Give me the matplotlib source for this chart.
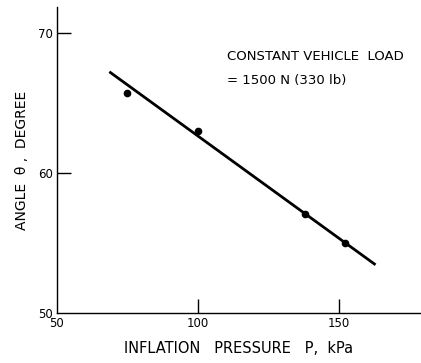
"""
Angle vs inflation pressure at constant vehicle load
"""
import matplotlib
matplotlib.use('Agg')  # Use non-interactive backend
import matplotlib.pyplot as plt

# Measured points
pressure = [75, 100, 138, 152]
angle = [65.75, 63.0, 57.1, 55.0]

# Fitted line ends
fit_pressure = [69, 162.5]
fit_angle = [67.2, 53.5]

x_ticks = [50, 100, 150]
y_ticks = [50, 60, 70]

plt.rcParams['font.family'] = 'DejaVu Sans'

fig = plt.figure(figsize=(4.21, 3.63), dpi=100)
ax = fig.add_axes([0.135, 0.138, 0.865, 0.843])

ax.plot(fit_pressure, fit_angle, color='black', linewidth=2.0)
ax.plot(pressure, angle, 'o', color='black', markersize=4.5)

ax.set_xlim(50, 179)
ax.set_ylim(50, 71.9)

ax.set_xticks(x_ticks)
ax.set_yticks(y_ticks)
ax.tick_params(direction='in', length=10, width=1, labelsize=8.5, pad=3)
# No tick marks at the origin
ax.xaxis.get_major_ticks()[0].tick1line.set_visible(False)
ax.yaxis.get_major_ticks()[0].tick1line.set_visible(False)

ax.spines['top'].set_visible(False)
ax.spines['right'].set_visible(False)
for s in ('left', 'bottom'):
    ax.spines[s].set_linewidth(1.0)

ax.set_xlabel('INFLATION   PRESSURE   P,  kPa', fontsize=10.5, labelpad=8)
ax.set_ylabel('ANGLE  \u03b8 ,  DEGREE', fontsize=10, labelpad=6)

ax.text(0.466, 0.837, 'CONSTANT VEHICLE  LOAD', transform=ax.transAxes,
        fontsize=9.5, va='center', ha='left')
ax.text(0.466, 0.761, '= 1500 N (330 lb)', transform=ax.transAxes,
        fontsize=9.5, va='center', ha='left')

plt.savefig('out.png', dpi=100)
plt.close()
